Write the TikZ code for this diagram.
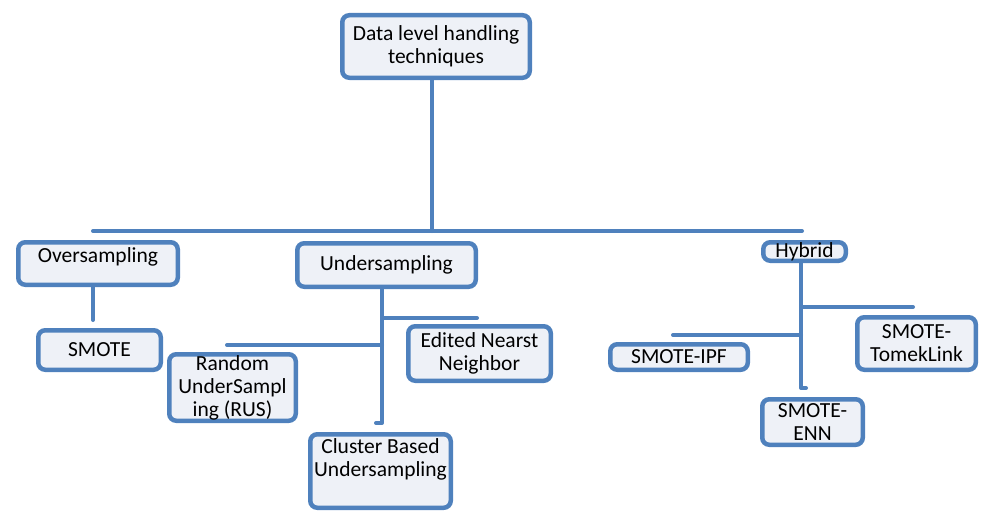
\documentclass[tikz,border=0pt]{standalone}
\usepackage{fontspec}
\setmainfont{Carlito}
\definecolor{boxblue}{RGB}{79,129,189}
\definecolor{boxfill}{RGB}{238,241,247}

\begin{document}
\begin{tikzpicture}[x=1pt,y=-1pt,line cap=round,line join=round,
  box/.style={draw=boxblue,fill=boxfill,line width=4.5pt,rounded corners=7pt,align=center,
    font=\fontsize{21.5}{23}\selectfont,inner xsep=2pt,inner ysep=1pt},
  link/.style={draw=boxblue,line width=4pt}]
\useasboundingbox (0,0) rectangle (981,511);
% boxes
\node[box,minimum width=187.5pt,minimum height=62.5pt] (top) at (436,46.5) {Data level handling\\techniques};
\node[box,minimum width=159.5pt,minimum height=42.5pt,inner ysep=5pt,text depth=17.5pt] (over) at (98,263.5) {Oversampling};
\node[box,minimum width=178.5pt,minimum height=43.5pt] (under) at (386.5,265) {Undersampling};
\node[box,minimum width=82.5pt,minimum height=18.5pt,inner ysep=0pt] (hyb) at (804.5,251.5) {Hybrid};
\node[box,minimum width=122.5pt,minimum height=39.5pt] (smote) at (99.5,350) {SMOTE};
\node[box,minimum width=142.5pt,minimum height=54.5pt] (enn) at (479.5,353.5) {Edited Nearst\\Neighbor};
\node[box,minimum width=126.5pt,minimum height=66.5pt,inner ysep=0pt] (rus) at (232.5,387.5) {Random\\UnderSampl\\ing (RUS)};
\node[box,minimum width=140.5pt,minimum height=73.5pt,inner ysep=4pt,text depth=27.5pt] (cbu) at (380.5,471) {Cluster Based\\Undersampling};
\node[box,minimum width=137.5pt,minimum height=25.5pt,inner ysep=0pt] (ipf) at (679,357) {SMOTE-IPF};
\node[box,minimum width=118.5pt,minimum height=52.5pt] (tomek) at (916.5,343.5) {SMOTE-\\TomekLink};
\node[box,minimum width=100.5pt,minimum height=45.5pt,inner ysep=0pt] (senn) at (812.5,422) {SMOTE-\\ENN};
% free ends of the connectors
\coordinate (busL) at (93,231);
\coordinate (busR) at (802,231);
\coordinate (overEnd) at (93,320);
\coordinate (uEnd) at (382,423);
\coordinate (uE) at (477,318);
\coordinate (uR) at (227,345);
\coordinate (hEnd) at (801,388);
\coordinate (hT) at (913,307);
\coordinate (hI) at (673,335);
% connectors
\draw[link] (busL) -- (busR);
\draw[link] ([xshift=-4pt]top.south) -- ([xshift=-4pt]top.south |- busL);
\draw[link] (over.south -| overEnd) -- (overEnd);
\draw[link] (under.south -| uEnd) -- (uEnd) -- ++(-6,0);
\draw[link] (uE -| uEnd) -- (uE);
\draw[link] (uR) -- (uR -| uEnd);
\draw[link] (hyb.south -| hEnd) -- (hEnd) -- ++(5,0);
\draw[link] (hT -| hEnd) -- (hT);
\draw[link] (hI) -- (hI -| hEnd);
\end{tikzpicture}
\end{document}
